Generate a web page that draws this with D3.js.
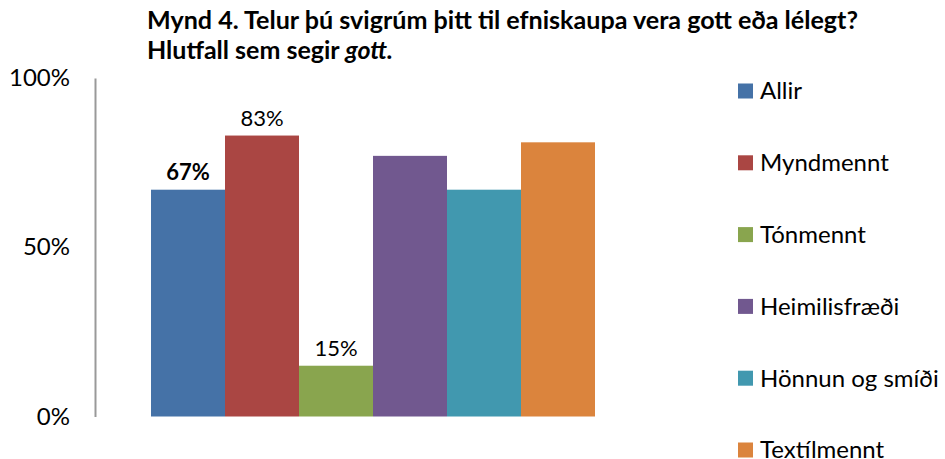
<!DOCTYPE html>
<html>
<head>
<meta charset="utf-8">
<script src="https://cdn.jsdelivr.net/npm/d3@7"></script>
<style>
  body { margin: 0; background: #fff; }
  svg { display: block; font-family: Lato, "Open Sans", sans-serif; }
</style>
</head>
<body>
<div id="chart"></div>
<script>
// data
var categories = ["Allir", "Myndmennt", "Tónmennt", "Heimilisfræði", "Hönnun og smíði", "Textílmennt"];
var values = [0.67, 0.83, 0.15, 0.77, 0.67, 0.81];
var shownLabels = ["67%", "83%", "15%", null, null, null];   // only first three labelled
var colors = ["#4572A7", "#AA4643", "#89A54E", "#71588F", "#4198AF", "#DB843D"];
var yTicks = [0, 0.5, 1];

var width = 945, height = 459;

var svg = d3.select("#chart")
  .append("svg")
    .attr("width", width)
    .attr("height", height);

// plot area
var x = d3.scaleBand()
  .domain(categories)
  .range([151, 595])
  .padding(0);

var y = d3.scaleLinear()
  .domain([0, 1])
  .range([416.5, 78]);

// title
svg.append("text")
  .attr("x", 147)
  .attr("y", 29)
  .style("font-size", "25px")
  .style("font-weight", "bold")
  .attr("textLength", 711)
  .attr("lengthAdjust", "spacingAndGlyphs")
  .text("Mynd 4. Telur þú svigrúm þitt til efniskaupa vera gott eða lélegt?");
var t2 = svg.append("text")
  .attr("x", 147)
  .attr("y", 59)
  .style("font-size", "25px")
  .style("font-weight", "bold");
t2.append("tspan").text("Hlutfall sem segir ");
t2.append("tspan").style("font-style", "italic").text("gott.");

// y axis
var yAxis = svg.append("g")
  .attr("transform", "translate(95,0)")
  .call(d3.axisLeft(y).tickValues(yTicks).tickSize(0).tickPadding(25).tickFormat(d3.format(".0%")));
yAxis.select(".domain").attr("stroke", "#999").attr("stroke-width", 2);
yAxis.selectAll("text")
  .style("font-size", "24px")
  .style("font-family", "Lato, 'Open Sans', sans-serif")
  .attr("fill", "#000");

// bars
svg.selectAll("rect.bar")
  .data(categories)
  .enter()
  .append("rect")
    .attr("class", "bar")
    .attr("x", function(d) { return x(d); })
    .attr("y", function(d, i) { return y(values[i]); })
    .attr("width", x.bandwidth())
    .attr("height", function(d, i) { return y(0) - y(values[i]); })
    .style("fill", function(d, i) { return colors[i]; });

// value labels
svg.selectAll("text.val")
  .data(categories.filter(function(d, i) { return shownLabels[i]; }))
  .enter()
  .append("text")
    .attr("class", "val")
    .attr("x", function(d) { return x(d) + x.bandwidth() / 2; })
    .attr("y", function(d) { return y(values[categories.indexOf(d)]) - 10; })
    .attr("text-anchor", "middle")
    .style("font-size", "22px")
    .style("font-weight", function(d) { return categories.indexOf(d) == 0 ? "bold" : "normal"; })
    .text(function(d) { return shownLabels[categories.indexOf(d)]; });

// legend
var legend = svg.append("g");
var rows = legend.selectAll("g")
  .data(categories)
  .enter()
  .append("g")
    .attr("transform", function(d, i) { return "translate(738," + (91 + i * 71.8) + ")"; });
rows.append("rect")
  .attr("x", 0).attr("y", -7.5)
  .attr("width", 15).attr("height", 15)
  .style("fill", function(d, i) { return colors[i]; });
rows.append("text")
  .attr("x", 22)
  .attr("dy", "0.35em")
  .style("font-size", "24px")
  .text(function(d) { return d; });
</script>
</body>
</html>
